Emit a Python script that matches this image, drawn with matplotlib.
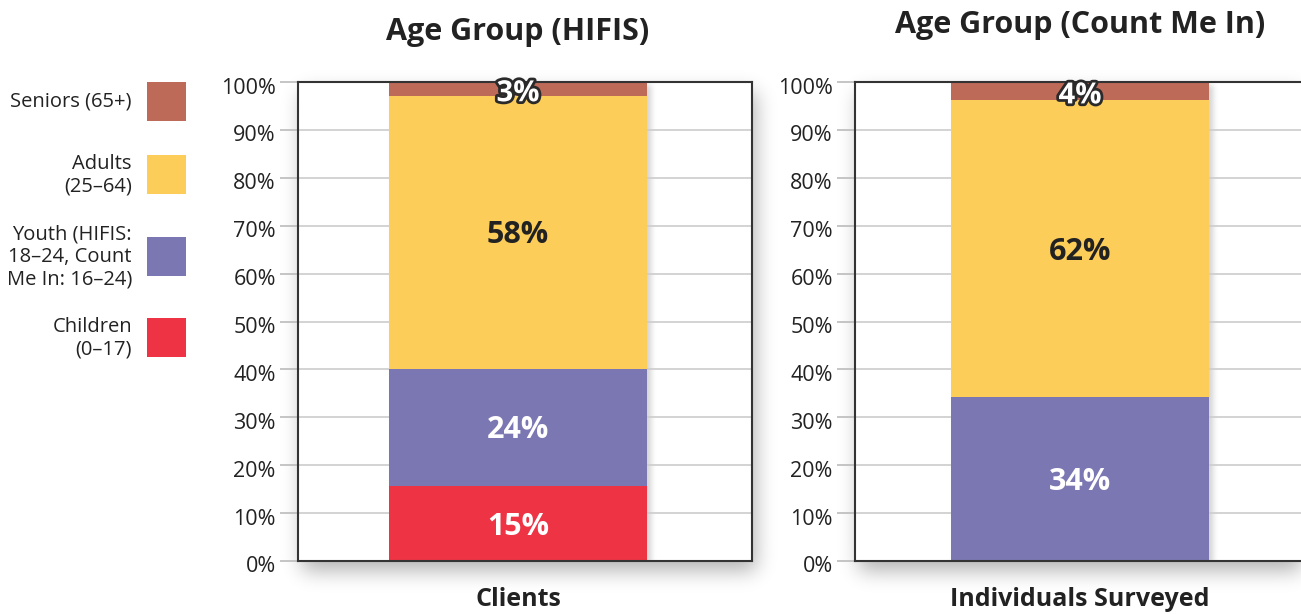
import numpy as np
import matplotlib
matplotlib.use('Agg')
import matplotlib.pyplot as plt
from matplotlib.patches import Rectangle
import matplotlib.patheffects as pe
import matplotlib.transforms as mtransforms

# ---------------- data ----------------
categories = ['Children\n(0–17)', 'Youth (HIFIS:\n18–24, Count\nMe In: 16–24)',
              'Adults\n(25–64)', 'Seniors (65+)']
colors = ['#EE3344', '#7B77B2', '#FDCD59', '#BD6A58']
hifis_values = [15.6, 24.5, 57.0, 2.9]
hifis_labels = ['15%', '24%', '58%', '3%']
cmi_values = [0.0, 34.2, 62.0, 3.8]
cmi_labels = ['', '34%', '62%', '4%']
titles = ['Age Group (HIFIS)', 'Age Group (Count Me In)']
xlabels = ['Clients', 'Individuals Surveyed']
yticks = list(range(0, 101, 10))
ytick_labels = [f'{t}%' for t in yticks]

# ---------------- style ----------------
FONT = 'Open Sans'
plt.rcParams['font.family'] = [FONT, 'DejaVu Sans']
DARK = '#222222'
W, H = 1301, 614
fig = plt.figure(figsize=(W / 100, H / 100), dpi=100, facecolor='white')


def px_rect(x0, ytop, x1, ybot):
    return [x0 / W, 1 - ybot / H, (x1 - x0) / W, (ybot - ytop) / H]


bg = fig.add_axes([0, 0, 1, 1], zorder=-10)
bg.axis('off')
bg.set_xlim(0, W)
bg.set_ylim(0, H)

ax_rects = [px_rect(298, 82, 752, 561), px_rect(855, 82, 1309, 561)]
centers = [0.4846, 0.4956]
title_y = [1.104, 1.119]
bar_w = 0.568
label_colors = ['white', 'white', DARK, 'white']

all_values = [hifis_values, cmi_values]
all_labels = [hifis_labels, cmi_labels]
axes = []
bars_all = []
for i in range(2):
    ax = fig.add_axes(ax_rects[i])
    ax.set_facecolor('none')
    axes.append(ax)
    ax.set_xlim(-centers[i], 1 - centers[i])
    ax.set_ylim(0, 100)
    bottom = 0.0
    for v, c, lab, lc in zip(all_values[i], colors, all_labels[i], label_colors):
        if v <= 0:
            continue
        b = ax.bar(0, v, bar_w, bottom=bottom, color=c, linewidth=0, zorder=3)
        bars_all.append((ax, b[0]))
        yc = bottom + v / 2
        if v < 6:
            ax.text(0, yc - 1.0, lab, ha='center', va='center', fontsize=21,
                    fontweight='bold', color='white', zorder=6,
                    path_effects=[pe.withStroke(linewidth=4, foreground='#2a2a2a')])
        else:
            ax.text(0, yc - 0.6, lab, ha='center', va='center', fontsize=22,
                    fontweight='bold', color=lc, zorder=6)
        bottom += v
    ax.set_yticks(yticks)
    ax.set_yticklabels(ytick_labels)
    ax.set_xticks([])
    ax.set_axisbelow(True)
    ax.yaxis.grid(True, color='#cccccc', linewidth=1.2)
    ax.tick_params(axis='y', length=13, width=1.2, color='#bbbbbb', pad=3,
                   labelsize=15.5, labelcolor=DARK)
    shift = mtransforms.ScaledTranslation(0, -3.5 / 100, fig.dpi_scale_trans)
    for lbl in ax.get_yticklabels():
        lbl.set_transform(lbl.get_transform() + shift)
    for s in ax.spines.values():
        s.set_color('#333333')
        s.set_linewidth(1.5)
        s.set_zorder(5)
    ax.text(0, title_y[i], titles[i], transform=ax.get_xaxis_transform(),
            ha='center', va='center', fontsize=22, fontweight='bold', color=DARK)
    ax.text(0, -0.081, xlabels[i], transform=ax.get_xaxis_transform(),
            ha='center', va='center', fontsize=18, fontweight='bold', color=DARK)

# ---------------- shadows (background image) ----------------
def gauss_blur(a, sigma):
    r = int(3 * sigma)
    x = np.arange(-r, r + 1)
    k = np.exp(-x ** 2 / (2 * sigma ** 2))
    k /= k.sum()
    a = np.apply_along_axis(lambda m: np.convolve(m, k, mode='same'), 0, a)
    a = np.apply_along_axis(lambda m: np.convolve(m, k, mode='same'), 1, a)
    return a


yy, xx = np.mgrid[0:H, 0:W] + 0.5
frame_mask = np.zeros((H, W))
inside = np.zeros((H, W))
for ax in axes:
    bb = ax.get_position()
    x0, x1 = bb.x0 * W, bb.x1 * W
    y0, y1 = bb.y0 * H, bb.y1 * H
    inside[(xx >= x0) & (xx <= x1) & (yy >= y0) & (yy <= y1)] = 1
    frame_mask[(xx >= x0 + 4) & (xx <= x1 + 4) & (yy >= y0 - 10) & (yy <= y1 - 10)] = 1
bar_mask = np.zeros((H, W))
for ax, b in bars_all:
    (bx0, by0), (bx1, by1) = ax.transData.transform(
        [(b.get_x(), b.get_y()), (b.get_x() + b.get_width(), b.get_y() + b.get_height())])
    bar_mask[(xx >= bx0 + 4) & (xx <= bx1 + 4) & (yy >= by0 - 3) & (yy <= by1 - 3)] = 1

shadow = gauss_blur(frame_mask, 10) * 0.30 * (1 - inside) + gauss_blur(bar_mask, 3) * 0.18 * inside
img = np.zeros((H, W, 4))
img[..., 3] = np.clip(shadow, 0, 1)
bg.imshow(np.ones((H, W, 3)), extent=[0, W, 0, H], origin='lower', aspect='auto', zorder=0)
bg.imshow(img, extent=[0, W, 0, H], origin='lower', aspect='auto', zorder=1,
          interpolation='nearest')

# ---------------- legend ----------------
leg_tops = [318, 237, 155, 82]
for cat, c, top in zip(categories, colors, leg_tops):
    fig.add_artist(Rectangle((147 / W, 1 - (top + 39) / H), 39 / W, 39 / H,
                             transform=fig.transFigure, color=c, linewidth=0))
    fig.text(132 / W, 1 - (top + 20) / H, cat, ha='right', va='center',
             multialignment='right', fontsize=14.5, color=DARK, linespacing=1.15)

fig.savefig('out.png', dpi=100, facecolor='white')
